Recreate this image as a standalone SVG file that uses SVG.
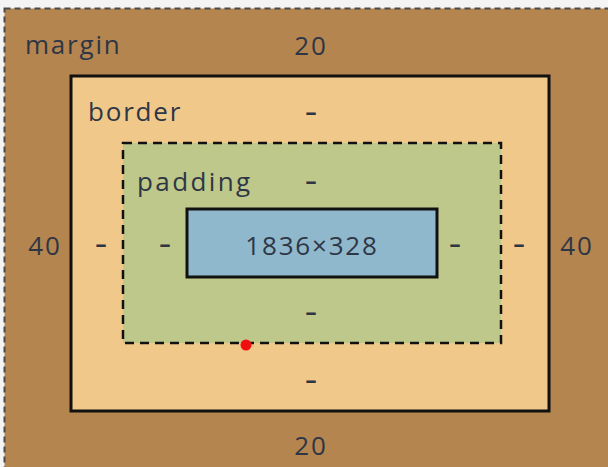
<svg xmlns="http://www.w3.org/2000/svg" width="608" height="467" viewBox="0 0 608 467">
<style>
  .t { font-family: "Open Sans", "DejaVu Sans", sans-serif; font-size: 26px; fill: #2e3646; letter-spacing: 1.8px; }
  .c { text-anchor: middle; }
  .d { font-family: "Open Sans", "DejaVu Sans", sans-serif; font-size: 26px; fill: #2e3646; font-weight: 600; }
</style>
<rect x="0" y="0" width="608" height="467" fill="#f4f4f4"/>
<g id="margin">
  <rect x="4.5" y="8.5" width="612" height="470" fill="#b5854f" stroke="#4a4a4a" stroke-width="2" stroke-dasharray="6,4"/>
  <text class="t" x="25" y="54">margin</text>
  <text class="t c" x="311" y="55">20</text>
  <text class="t c" x="45" y="255">40</text>
  <text class="t c" x="577" y="255">40</text>
  <text class="t c" x="311" y="455">20</text>
</g>
<g id="border">
  <rect x="71" y="76" width="478" height="335" fill="#f0c98a" stroke="#111" stroke-width="3"/>
  <text class="t" x="88" y="121">border</text>
  <text class="d" x="305" y="121" textLength="12" lengthAdjust="spacingAndGlyphs">-</text>
  <text class="d" x="95" y="253" textLength="12" lengthAdjust="spacingAndGlyphs">-</text>
  <text class="d" x="513" y="253" textLength="12" lengthAdjust="spacingAndGlyphs">-</text>
  <text class="d" x="305" y="389" textLength="12" lengthAdjust="spacingAndGlyphs">-</text>
</g>
<g id="padding">
  <rect x="123" y="143" width="378" height="200" fill="#bec88a" stroke="#111" stroke-width="2.5" stroke-dasharray="9,6"/>
  <text class="t" x="137" y="191" style="letter-spacing:2.4px">padding</text>
  <text class="d" x="305" y="190" textLength="12" lengthAdjust="spacingAndGlyphs">-</text>
  <text class="d" x="159" y="253" textLength="12" lengthAdjust="spacingAndGlyphs">-</text>
  <text class="d" x="449" y="253" textLength="12" lengthAdjust="spacingAndGlyphs">-</text>
  <text class="d" x="305" y="321" textLength="12" lengthAdjust="spacingAndGlyphs">-</text>
</g>
<g id="content">
  <rect x="187" y="209" width="250" height="68" fill="#90b8cc" stroke="#111" stroke-width="3"/>
  <text class="t c" x="312" y="255">1836×328</text>
</g>
<g id="connectors"></g>
<circle cx="246" cy="345" r="5.5" fill="#f01010"/>
</svg>
